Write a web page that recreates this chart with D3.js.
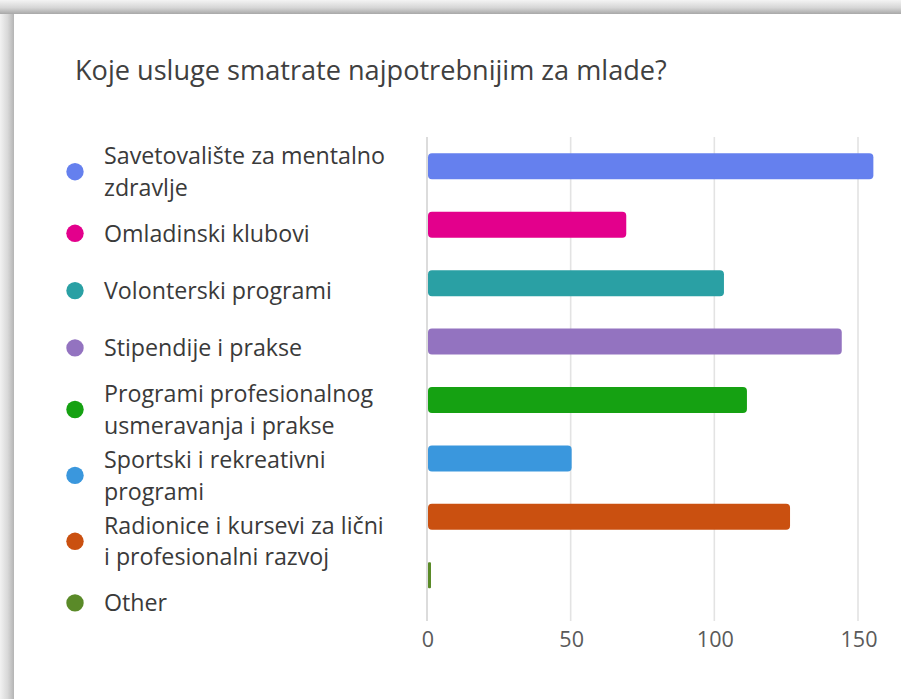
<!DOCTYPE html>
<html><head><meta charset="utf-8">
<script src="https://cdn.jsdelivr.net/npm/d3@7"></script>
<style>html,body{margin:0;padding:0;background:#fff;overflow:hidden}</style>
</head><body>
<svg id="chart" width="901" height="699"></svg>
<script>
const title = "Koje usluge smatrate najpotrebnijim za mlade?";
const categories = [
  "Savetovalište za mentalno zdravlje",
  "Omladinski klubovi",
  "Volonterski programi",
  "Stipendije i prakse",
  "Programi profesionalnog usmeravanja i prakse",
  "Sportski i rekreativni programi",
  "Radionice i kursevi za lični i profesionalni razvoj",
  "Other"
];
const legendLines = [
  ["Savetovalište za mentalno", "zdravlje"],
  ["Omladinski klubovi"],
  ["Volonterski programi"],
  ["Stipendije i prakse"],
  ["Programi profesionalnog", "usmeravanja i prakse"],
  ["Sportski i rekreativni", "programi"],
  ["Radionice i kursevi za lični", "i profesionalni razvoj"],
  ["Other"]
];
const values = [155, 69, 103, 144, 111, 50, 126, 1];
const colors = ["#6580EE", "#E3008C", "#2AA0A4", "#9373C0", "#15A112", "#3A97DD", "#CA5010", "#5A8A28"];
const xTicks = [0, 50, 100, 150];

const svg = d3.select("#chart");
const FONT = "'Open Sans', 'Noto Sans', sans-serif";

// frame shadow
const defs = svg.append("defs");
const gTop = defs.append("linearGradient").attr("id","gTop").attr("x1",0).attr("y1",0).attr("x2",0).attr("y2",1);
gTop.append("stop").attr("offset","0%").attr("stop-color","#f4f4f4");
gTop.append("stop").attr("offset","55%").attr("stop-color","#d6d6d6");
gTop.append("stop").attr("offset","100%").attr("stop-color","#a8a8a8");
const gLeft = defs.append("linearGradient").attr("id","gLeft").attr("x1",0).attr("y1",0).attr("x2",1).attr("y2",0);
gLeft.append("stop").attr("offset","0%").attr("stop-color","#f2f2f2");
gLeft.append("stop").attr("offset","55%").attr("stop-color","#d8d8d8");
gLeft.append("stop").attr("offset","100%").attr("stop-color","#b4b4b4");
svg.append("rect").attr("x",0).attr("y",0).attr("width",14).attr("height",699).attr("fill","url(#gLeft)");
svg.append("rect").attr("x",0).attr("y",0).attr("width",901).attr("height",14).attr("fill","url(#gTop)");

function fit(sel, target) {
  const w = sel.node().getComputedTextLength();
  const fs = parseFloat(sel.attr("font-size"));
  sel.attr("font-size", fs * target / w);
  return fs * target / w;
}

// title
const t = svg.append("text").attr("x", 75).attr("y", 79.5)
  .attr("font-family", FONT).attr("font-size", 27).attr("fill", "#404040").text(title);
fit(t, 592);

// scales
const x = d3.scaleLinear().domain([0, 150]).range([427, 858]);
const y = d3.scaleBand().domain(categories).range([137.1, 604.5]).paddingInner(0.555).paddingOuter(0.2775);

// grid
svg.append("g").selectAll("line").data(xTicks).join("line")
  .attr("x1", d => x(d)).attr("x2", d => x(d))
  .attr("y1", 137).attr("y2", 621)
  .attr("stroke", d => d === 0 ? "#d4d4d4" : "#e3e3e3").attr("stroke-width", 1.6);

// tick labels
const tl = svg.append("g").selectAll("text").data(xTicks).join("text")
  .attr("x", d => x(d) + 1).attr("y", 647)
  .attr("text-anchor", "middle").attr("font-family", FONT).attr("font-size", 21)
  .attr("fill", "#5a5a5a").text(d => d);
{
  const n = tl.filter(d => d === 150);
  const fs = fit(n, 37);
  tl.attr("font-size", fs);
}

// bars
svg.append("g").selectAll("rect").data(categories).join("rect")
  .attr("x", x(0) + 1)
  .attr("y", d => y(d))
  .attr("width", (d, i) => Math.max(3, x(values[i]) - x(0)))
  .attr("height", y.bandwidth())
  .attr("rx", (d, i) => values[i] < 3 ? 1 : 4)
  .attr("fill", (d, i) => colors[i]);

// legend
const lineH = 31.7;
let cy = 171.7;
const pos = [];
legendLines.forEach((lines, i) => {
  if (i > 0) cy += 48.7 + 4.3 * (lines.length + legendLines[i - 1].length);
  pos.push(cy);
});
const lg = svg.append("g");
lg.selectAll("circle").data(categories).join("circle")
  .attr("cx", 75).attr("cy", (d, i) => pos[i]).attr("r", 8.7)
  .attr("fill", (d, i) => colors[i]);
const texts = [];
legendLines.forEach((lines, i) => {
  lines.forEach((ln, k) => {
    const tt = lg.append("text").attr("x", 104)
      .attr("y", pos[i] + 8.3 + (k - (lines.length - 1) / 2) * lineH)
      .attr("font-family", FONT).attr("font-size", 22).attr("fill", "#3a3a3a").text(ln);
    texts.push(tt);
  });
});
const fs = fit(texts[0], 281);
texts.forEach(tt => tt.attr("font-size", fs));
</script>
</body></html>
